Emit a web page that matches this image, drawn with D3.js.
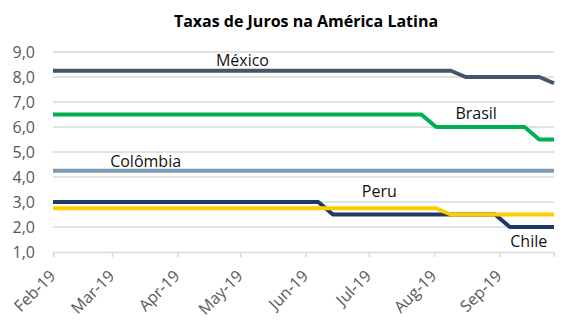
<!DOCTYPE html>
<html><head><meta charset="utf-8">
<script src="https://cdn.jsdelivr.net/npm/d3@7"></script>
<style>body{margin:0;background:#fff}svg{display:block}</style>
</head><body>
<svg id="c" width="570" height="334"></svg>
<script>
const title = "Taxas de Juros na América Latina";
const yTicks = [1,2,3,4,5,6,7,8,9];
const xTickLabels = ["Feb-19","Mar-19","Apr-19","May-19","Jun-19","Jul-19","Aug-19","Sep-19"];
const xTickDates = ["2019-02-01","2019-03-01","2019-04-01","2019-05-01","2019-06-01","2019-07-01","2019-08-01","2019-09-01"];
const dateRange = ["2019-02-01","2019-09-27"];

const seriesNames = ["México","Brasil","Colômbia","Chile","Peru"];
const mexicoDates = ["2019-02-01","2019-08-09","2019-08-16","2019-09-20","2019-09-27"];
const mexicoValues = [8.25, 8.25, 8.0, 8.0, 7.75];
const brasilDates = ["2019-02-01","2019-07-26","2019-08-02","2019-09-13","2019-09-20","2019-09-27"];
const brasilValues = [6.5, 6.5, 6.0, 6.0, 5.5, 5.5];
const colombiaDates = ["2019-02-01","2019-09-27"];
const colombiaValues = [4.25, 4.25];
const chileDates = ["2019-02-01","2019-06-07","2019-06-14","2019-08-30","2019-09-06","2019-09-27"];
const chileValues = [3.0, 3.0, 2.5, 2.5, 2.0, 2.0];
const peruDates = ["2019-02-01","2019-08-02","2019-08-09","2019-09-27"];
const peruValues = [2.75, 2.75, 2.5, 2.5];

const parse = d3.utcParse("%Y-%m-%d");
const series = [
  {name:"México", dates:mexicoDates, values:mexicoValues, color:"#44546A", label:["2019-05-02", 8.68]},
  {name:"Brasil", dates:brasilDates, values:brasilValues, color:"#00B050", label:["2019-08-21", 6.56]},
  {name:"Colômbia", dates:colombiaDates, values:colombiaValues, color:"#7F9BB0", label:["2019-03-17", 4.64]},
  {name:"Peru", dates:peruDates, values:peruValues, color:"#FFCC00", label:["2019-07-06", 3.44]},
  {name:"Chile", dates:chileDates, values:chileValues, color:"#1F3864", label:["2019-09-15", 1.44]}
];
const drawOrder = ["Colômbia","Chile","Peru","Brasil","México"];

const svg = d3.select("#c");
const font = "'Open Sans', sans-serif";
const margin = {left:53, right:16, top:52, bottom:82};
const W = 570, H = 334;
const x = d3.scaleUtc().domain(dateRange.map(parse)).range([margin.left, W - margin.right]);
const y = d3.scaleLinear().domain([1, 9]).range([H - margin.bottom, margin.top]);

svg.append("text").attr("x", 306).attr("y", 27).attr("text-anchor","middle")
  .attr("font-family", font).attr("font-weight","bold").attr("font-size", 16).attr("fill","#000")
  .text(title);

// gridlines
svg.append("g").selectAll("line").data(yTicks.filter(d => d > 1)).join("line")
  .attr("x1", margin.left).attr("x2", W - margin.right)
  .attr("y1", d => y(d)).attr("y2", d => y(d))
  .attr("stroke", "#D9D9D9").attr("stroke-width", 1.5);

// y axis labels
svg.append("g").selectAll("text").data(yTicks).join("text")
  .attr("x", 35).attr("y", d => y(d)).attr("dy","0.36em").attr("text-anchor","end")
  .attr("font-family", font).attr("font-size", 16).attr("fill","#595959")
  .text(d => d3.format(".1f")(d).replace(".", ","));

// x axis
const xAxis = d3.axisBottom(x).tickValues(xTickDates.map(parse)).tickSize(5).tickFormat((d,i) => xTickLabels[i]);
const gx = svg.append("g").attr("transform", `translate(0,${y(1)})`).call(xAxis);
gx.select(".domain").attr("stroke","#D9D9D9").attr("stroke-width",1.5);
gx.selectAll(".tick line").attr("stroke","#D9D9D9").attr("stroke-width",1.5);
gx.selectAll(".tick text")
  .attr("font-family", font).attr("font-size", 16).attr("fill","#595959")
  .attr("text-anchor","end").attr("dy", null).attr("y", 0)
  .attr("transform","translate(3,25) rotate(-45)");

// lines
const line = d3.line().x(d => x(d[0])).y(d => y(d[1]));
drawOrder.forEach(n => {
  const s = series.find(s => s.name === n);
  const pts = s.dates.map((d,i) => [parse(d), s.values[i]]);
  svg.append("path").datum(pts).attr("d", line).attr("fill","none")
    .attr("stroke", s.color).attr("stroke-width", 4).attr("stroke-linejoin","round");
});

// labels
series.forEach(s => {
  svg.append("text").attr("x", x(parse(s.label[0]))).attr("y", y(s.label[1])).attr("dy","0.35em")
    .attr("text-anchor","middle").attr("font-family", font).attr("font-size", 16).attr("fill","#111")
    .text(s.name);
});
</script>
</body></html>
